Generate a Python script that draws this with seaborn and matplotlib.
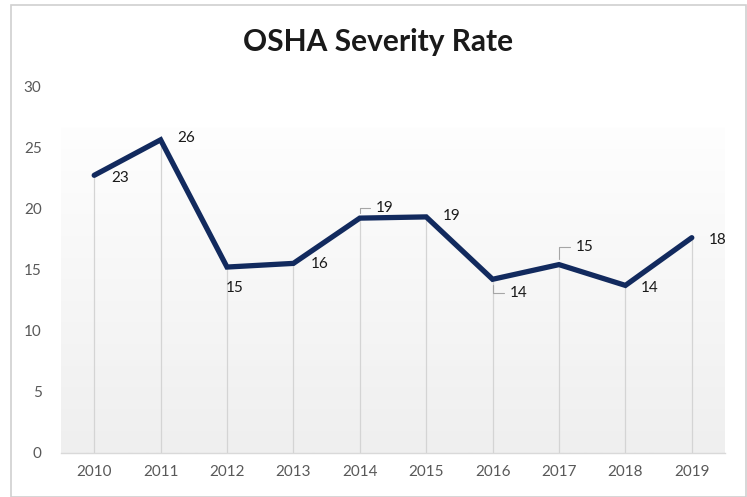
import numpy as np
import pandas as pd
import matplotlib
matplotlib.use('Agg')
import matplotlib.pyplot as plt
from matplotlib.patches import Rectangle
import seaborn as sns

# data
years = [2010, 2011, 2012, 2013, 2014, 2015, 2016, 2017, 2018, 2019]
severity = [22.7, 25.6, 15.2, 15.5, 19.2, 19.3, 14.2, 15.4, 13.7, 17.6]
labels = ['23', '26', '15', '16', '19', '19', '14', '15', '14', '18']
# label offsets in pixels (dx, dy) and whether a leader line is drawn
label_offsets = [(26, -3), (26, 2), (8, -21), (26, -1), (25, 10), (25, 1), (26, -14), (26, 18), (24, -3), (26, -2)]
leaders = [False, False, False, False, True, False, True, True, False, False]

df = pd.DataFrame({'Year': years, 'Rate': severity})

sns.set_style('white')
plt.rcParams['font.family'] = ['Lato', 'DejaVu Sans']

fig = plt.figure(figsize=(7.47, 4.97), dpi=100)
ax = fig.add_axes([61 / 747, 1 - 453 / 497, 664 / 747, 367 / 497])

# outer frame of the chart
fig.patches.append(Rectangle((11 / 747, 0), 735 / 747, 1 - 5 / 497, transform=fig.transFigure,
                             fill=False, edgecolor='#d0d0d0', lw=1.2))

# plot area gradient
grad = np.linspace(1.0, 0.0, 256).reshape(-1, 1)
ax.imshow(grad, cmap=matplotlib.colors.LinearSegmentedColormap.from_list('g', ['#efefef', '#fefefe']),
          extent=[0, 1, 0, 0.886], transform=ax.transAxes, aspect='auto', zorder=0)

# drop lines
ax.vlines(df['Year'], 0, df['Rate'], color='#d4d4d4', lw=0.9, zorder=1)

sns.lineplot(data=df, x='Year', y='Rate', color='#122a5e', lw=3.8, ax=ax, zorder=3,
             solid_joinstyle='miter')

for x, y, lab, (dx, dy), lead in zip(years, severity, labels, label_offsets, leaders):
    if lead:
        ax.annotate(lab, xy=(x, y), xytext=(dx, dy), textcoords='offset pixels',
                    ha='center', va='center', fontsize=11, color='#1a1a1a',
                    arrowprops=dict(arrowstyle='-', color='#a6a6a6', lw=0.8,
                                    connectionstyle='angle,angleA=0,angleB=90,rad=0',
                                    shrinkA=2, shrinkB=4))
    else:
        ax.annotate(lab, xy=(x, y), xytext=(dx, dy), textcoords='offset pixels',
                    ha='center', va='center', fontsize=11, color='#1a1a1a')

ax.set_xlim(2009.5, 2019.5)
ax.set_ylim(0, 30)
ax.set_xticks(years)
ax.set_xticklabels([str(y) for y in years])
ax.set_yticks(range(0, 31, 5))
ax.tick_params(axis='both', length=0, labelsize=11, labelcolor='#595959')
ax.tick_params(axis='x', pad=9)
ax.tick_params(axis='y', pad=14)
ax.set_xlabel('')
ax.set_ylabel('')
for s in ['top', 'right', 'left']:
    ax.spines[s].set_visible(False)
ax.spines['bottom'].set_color('#d9d9d9')
ax.spines['bottom'].set_linewidth(1.0)
ax.set_facecolor('white')

fig.text(378 / 747, 1 - 42 / 497, 'OSHA Severity Rate', ha='center', va='center',
         fontsize=21.5, fontweight='bold', color='#1a1a1a')

fig.savefig('out.png', dpi=100)
